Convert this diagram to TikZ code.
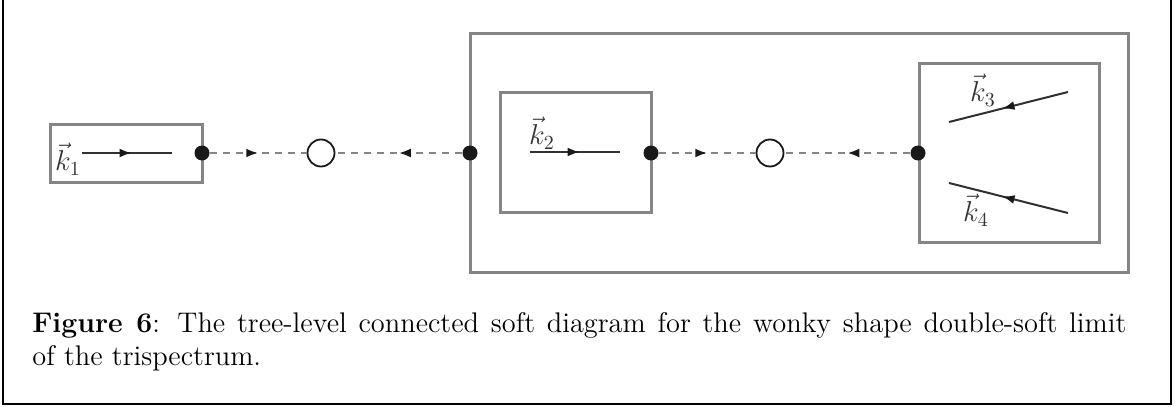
\documentclass[tikz,border=0pt]{standalone}
\usepackage{amsmath}
\usepackage{tikz}
\usetikzlibrary{arrows.meta, decorations.markings, positioning}
\definecolor{boxgray}{HTML}{858585}
\definecolor{linegray}{HTML}{303030}
\tikzset{
	boxframe/.style={
			draw=boxgray,
			line width=1.5pt,
			fill=none,
			inner sep=0pt
		},
	vertexdot/.style={
			circle,
			fill=black!90,
			draw=none,
			minimum size=7.5pt,
			inner sep=0pt
		},
	softnode/.style={
			circle,
			draw=black!90,
			fill=white,
			line width=0.9pt,
			minimum size=13.5pt,
			inner sep=0pt
		},
	momline/.style={
			draw=linegray,
			line width=1pt
		},
	softline/.style={
			draw=boxgray,
			line width=1.3pt,
			dash pattern=on 3.5pt off 3pt
		},
	midarrow/.style={
			postaction={decorate},
			decoration={markings,
					mark=at position #1 with {\arrow[black!90]{Latex[length=6pt,width=4.5pt]}}}
		},
	klabel/.style={
			text=black!80,
			inner sep=0pt,
			font=\fontsize{14.2}{16.8}\selectfont
		}
}
\begin{document}
\begin{tikzpicture}[x=0.5pt, y=-0.5pt]
\useasboundingbox (0,0) rectangle (1175,407);
% outer frame (top edge is cut off)
\draw[black, line width=0.75pt] (3,0) -- (3,404) -- (1171,404) -- (1171,0);

% boxes
\node[boxframe, minimum width=76pt, minimum height=29pt] (box1) at (126,153) {};
\node[boxframe, minimum width=329pt, minimum height=119.5pt] (bigbox) at (799,152.5) {};
\node[boxframe, minimum width=75.5pt, minimum height=60pt] (box2) at (576,152) {};
\node[boxframe, minimum width=90pt, minimum height=89.5pt] (box3) at (1009,152.5) {};

% vertices
\node[vertexdot] (v1) at (202,153) {};
\node[softnode] (s1) at (321,153) {};
\node[vertexdot] (v2) at (470,153) {};
\node[vertexdot] (v3) at (651,153) {};
\node[softnode] (s2) at (770,153) {};
\node[vertexdot] (v4) at (918,153) {};

% soft lines
\draw[softline, midarrow=0.5] (v1) -- (s1);
\draw[softline, midarrow=0.5] (v2) -- (s1);
\draw[softline, midarrow=0.5] (v3) -- (s2);
\draw[softline, midarrow=0.5] (v4) -- (s2);

% hard momenta
\coordinate (k1a) at (82,153);
\coordinate (k1b) at (172,153);
\draw[momline, midarrow=0.55] (k1a) -- (k1b);
\node[klabel] (k1) at (68,159) {$\vec{k}_1$};

\coordinate (k2a) at (530,152);
\coordinate (k2b) at (620,152);
\draw[momline, midarrow=0.55] (k2a) -- (k2b);
\node[klabel] (k2) at (542,133) {$\vec{k}_2$};

\coordinate (k3a) at (1068,92);
\coordinate (k3b) at (949,122);
\draw[momline, midarrow=0.55] (k3a) -- (k3b);
\node[klabel] (k3) at (983,90) {$\vec{k}_3$};

\coordinate (k4a) at (1068,213);
\coordinate (k4b) at (949,183);
\draw[momline, midarrow=0.55] (k4a) -- (k4b);
\node[klabel] (k4) at (976,210) {$\vec{k}_4$};

% caption
\node[anchor=north west, inner sep=0pt, text width=547pt, align=justify,
      font=\fontsize{14.2}{16.8}\selectfont] (caption) at (32,312)
  {\textbf{Figure 6}: The tree-level connected soft diagram for the wonky shape double-soft limit\linebreak of the trispectrum.};
\end{tikzpicture}
\end{document}
